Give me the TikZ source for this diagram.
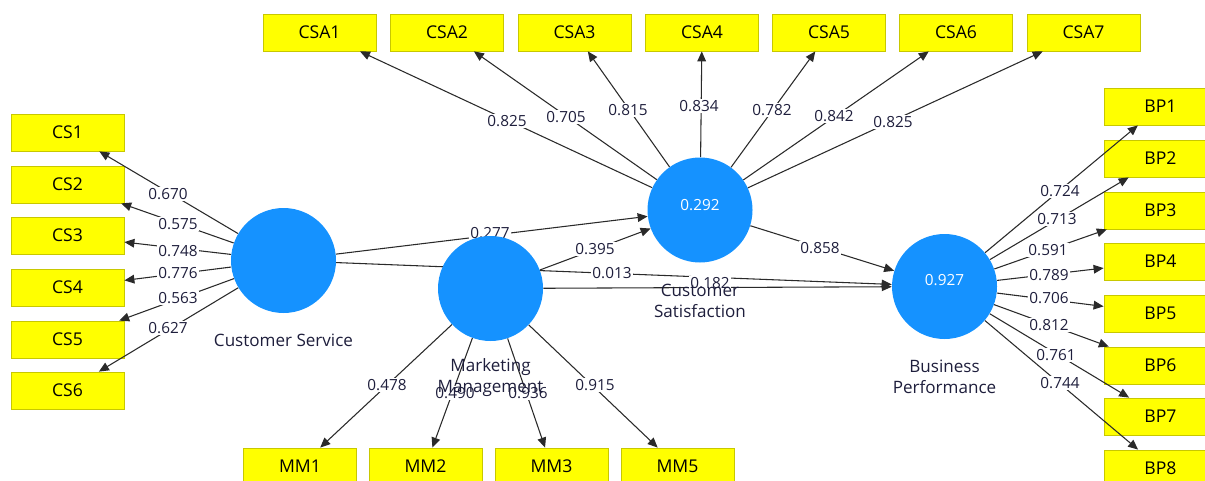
\documentclass[tikz,border=0pt]{standalone}
\usepackage{fontspec}
\setmainfont{Open Sans}
\usetikzlibrary{arrows.meta}
\definecolor{lvc}{HTML}{1592FF}
\definecolor{indc}{HTML}{FFFF00}
\definecolor{indb}{HTML}{C8C800}
\definecolor{txt}{HTML}{1E1E3C}
\definecolor{lnc}{HTML}{2A2A2A}
\pgfdeclarelayer{front}
\pgfsetlayers{main,front}
\begin{document}
\begin{tikzpicture}[x=0.75pt,y=-0.75pt,
  font=\fontsize{11.5}{15.75}\selectfont,
  indbox/.style={draw=indb, line width=0.6pt, fill=indc, minimum width=84.75pt, minimum height=27.75pt, inner sep=0pt, text=black, font=\fontsize{13.2}{15}\selectfont},
  lvnode/.style={circle, fill=lvc, minimum size=78.75pt, inner sep=0pt, text=white},
  ld/.style={fill=white, inner sep=0.8pt, text=txt},
  arr/.style={draw=lnc, line width=0.8pt, -{Triangle[length=7.5pt,width=6.5pt]}},
  lvlabel/.style={text=txt, align=center, font=\fontsize{12.8}{15.75}\selectfont}]
\useasboundingbox (0,0) rectangle (1205,481);
\clip (0,0) rectangle (1205,481);
% latent variables (on top)
\begin{pgfonlayer}{front}
\node[lvnode] (cs) at (283.5,260.5) {};
\node[lvnode] (mm) at (490.5,288.5) {};
\node[lvnode] (csat) at (700,210) {};
\node[lvnode] (bp) at (944.5,286.5) {};
\node[text=white] (csatv) at (700,205) {0.292};
\node[text=white] (bpv) at (944.5,280) {0.927};
\node[lvlabel] (csl) at (283.5,340) {Customer Service};
\node[lvlabel] (mml) at (490.5,377.5) {Marketing\\Management};
\node[lvlabel] (csatl) at (700,301) {Customer\\Satisfaction};
\node[lvlabel] (bpl) at (944.5,377) {Business\\Performance};
\end{pgfonlayer}
% indicators
\foreach \i/\x in {1/319.5,2/447,3/574.5,4/702,5/829,6/956,7/1083.5}
  \node[indbox] (csa\i) at (\x,32.5) {CSA\i};
\foreach \i/\y in {1/132.5,2/184.5,3/235.5,4/287.5,5/339.5,6/390.5}
  \node[indbox] (cs\i) at (67.5,\y) {CS\i};
\foreach \i/\y in {1/106.5,2/158.5,3/210.5,4/261.5,5/313.5,6/365.5,7/416.5,8/468.5}
  \node[indbox] (bp\i) at (1160.5,\y) {BP\i};
\foreach \i/\n/\x in {1/1/300,2/2/425.5,3/3/551.5,4/5/677.5}
  \node[indbox] (mmb\i) at (\x,466.5) {MM\n};
% outer loadings
\foreach \i in {1,...,7} \draw[arr] (csat) -- (csa\i);
\foreach \i in {1,...,6} \draw[arr] (cs) -- (cs\i);
\foreach \i in {1,...,8} \draw[arr] (bp) -- (bp\i);
\foreach \i in {1,...,4} \draw[arr] (mm) -- (mmb\i);
% structural paths
\draw[arr] (cs) -- (csat);
\draw[arr] (mm) -- (csat);
\draw[arr] (cs) -- (bp);
\draw[arr] (mm) -- (bp);
\draw[arr] (csat) -- (bp);
% loading labels
\foreach \n/\x/\y/\v in {a1/507/121/0.825,a2/566/117/0.705,a3/628/110/0.815,a4/699/106/0.834,a5/772/110/0.782,a6/834/116/0.842,a7/893/122/0.825,
  c1/168/194/0.670,c2/178/224/0.575,c3/178/251/0.748,c4/178/273/0.776,c5/178/298/0.563,c6/168/328/0.627,
  b1/1060/191/0.724,b2/1057/219/0.713,b3/1048/250/0.591,b4/1049/275/0.789,b5/1049/298/0.706,b6/1049/325/0.812,b7/1056/355/0.761,b8/1060/383/0.744,
  m1/387/385/0.478,m2/455/393/0.490,m3/528/393/0.936,m4/595/385/0.915,
  p1/490/233/0.277,p2/595/249/0.395,p3/612/273/0.013,p4/710/283/0.182,p5/820/248/0.858}
  \node[ld] (l\n) at (\x,\y) {\v};
\end{tikzpicture}
\end{document}
